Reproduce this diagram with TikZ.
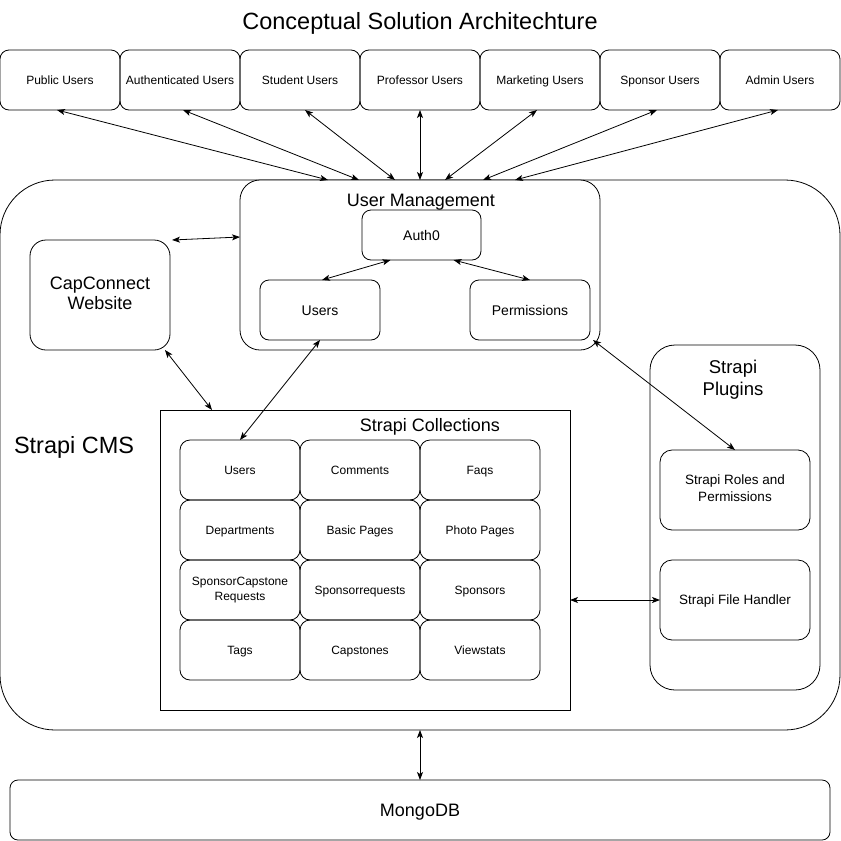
\documentclass[tikz,border=0pt]{standalone}
\usepackage{fontspec}
\setmainfont{Liberation Sans}
\usetikzlibrary{arrows.meta}
\newcommand\myfs[2]{\fontsize{#1}{#2}\selectfont}
\newcommand\mystrut{\rule[-0.22em]{0pt}{1.16em}}
\newcommand\myendstrut{\rule[-0.22em]{0pt}{0.22em}}
\begin{document}
\begin{tikzpicture}[x=1pt,y=-1pt,
  every node/.style={inner sep=0pt,outer sep=0pt},
  strutted/.style={execute at begin node=\mystrut,execute at end node=\myendstrut},
  ubox/.style={draw,line width=0.8pt,rounded corners=9pt,minimum width=120pt,minimum height=60pt,align=center,font=\myfs{12}{14},strutted},
  cbox/.style={draw,line width=0.8pt,rounded corners=10pt,minimum width=120pt,minimum height=60pt,align=center,font=\myfs{12}{14.5},strutted},
  mbox/.style={draw,line width=0.8pt,rounded corners=9pt,align=center,font=\myfs{14}{16},strutted},
  pbox/.style={draw,line width=0.8pt,rounded corners=12pt,minimum width=150pt,minimum height=80pt,align=center,font=\myfs{13.5}{17},strutted},
  big/.style={font=\myfs{18}{20},align=center,strutted},
  arr/.style={line width=0.8pt,{Stealth[length=8pt,width=6pt,inset=2pt]}-{Stealth[length=8pt,width=6pt,inset=2pt]}}
]
\useasboundingbox[fill=white] (0,0) rectangle (841,841);

% title
\node[font=\myfs{23.5}{26},strutted] (title) at (420,21) {Conceptual Solution Architechture};

% top user boxes
\node[ubox] (pub)  at (60,80)  {Public Users};
\node[ubox] (auth) at (180,80) {Authenticated Users};
\node[ubox] (stu)  at (300,80) {Student Users};
\node[ubox] (prof) at (420,80) {Professor Users};
\node[ubox] (mkt)  at (540,80) {Marketing Users};
\node[ubox] (spo)  at (660,80) {Sponsor Users};
\node[ubox] (adm)  at (780,80) {Admin Users};

% Strapi CMS container
\node[draw,line width=0.8pt,rounded corners=55pt,minimum width=840pt,minimum height=550pt] (cms) at (420,455) {};
\node[font=\myfs{23.5}{26},anchor=west,strutted] (cmslbl) at (14,445) {Strapi CMS};

% User management
\node[draw,line width=0.8pt,rounded corners=20pt,minimum width=360pt,minimum height=170pt,fill=white] (um) at (420,265) {};
\node[big] (umlbl) at (421,200) {User Management};
\node[mbox,minimum width=119pt,minimum height=50pt] (auth0) at (421.5,235) {Auth0};
\node[mbox,minimum width=120pt,minimum height=60pt] (umusers) at (320,310) {Users};
\node[mbox,minimum width=120pt,minimum height=60pt] (perm) at (530,310) {Permissions};

% CapConnect website
\node[draw,line width=0.8pt,rounded corners=16pt,minimum width=140pt,minimum height=110pt,big] (cap) at (100,295) {CapConnect\\Website};

% Strapi Collections
\node[draw,line width=0.8pt,minimum width=410pt,minimum height=300pt] (coll) at (365,560) {};
\node[big] (colllbl) at (430,425) {Strapi Collections};
\node[cbox] (cusers) at (240,470) {Users};
\node[cbox] (ccom)   at (360,470) {Comments};
\node[cbox] (cfaq)   at (480,470) {Faqs};
\node[cbox] (cdep)   at (240,530) {Departments};
\node[cbox] (cbasic) at (360,530) {Basic Pages};
\node[cbox] (cphoto) at (480,530) {Photo Pages};
\node[cbox] (cscr)   at (240,590) {SponsorCapstone\\Requests};
\node[cbox] (csreq)  at (360,590) {Sponsorrequests};
\node[cbox] (cspons) at (480,590) {Sponsors};
\node[cbox] (ctags)  at (240,650) {Tags};
\node[cbox] (ccap)   at (360,650) {Capstones};
\node[cbox] (cview)  at (480,650) {Viewstats};

% Strapi plugins
\node[draw,line width=0.8pt,rounded corners=25pt,minimum width=170pt,minimum height=345pt] (plug) at (735,517.5) {};
\node[font=\myfs{18.5}{22},align=center,strutted] (pluglbl) at (733,380) {Strapi\\Plugins};
\node[pbox] (roles) at (735,490) {Strapi Roles and\\Permissions};
\node[pbox] (fh)    at (735,600) {Strapi File Handler};

% MongoDB
\node[draw,line width=0.8pt,rounded corners=8pt,minimum width=820pt,minimum height=60pt,big] (mongo) at (420,810) {MongoDB};

% connectors: users to user management
\draw[arr] ([xshift=-3pt]pub.south)  -- ([xshift=-92pt]um.north);
\draw[arr] ([xshift=3pt]auth.south)  -- ([xshift=-61pt]um.north);
\draw[arr] ([xshift=5pt]stu.south)   -- ([xshift=-25pt]um.north);
\draw[arr] (prof.south)              -- (um.north);
\draw[arr] ([xshift=-3pt]mkt.south)  -- ([xshift=25pt]um.north);
\draw[arr] ([xshift=-3pt]spo.south)  -- ([xshift=63pt]um.north);
\draw[arr] ([xshift=-2pt]adm.south)  -- ([xshift=95pt]um.north);

% inner connectors
\draw[arr] ([xshift=2pt]cap.north east) -- ([yshift=28pt]um.west);
\draw[arr] ([xshift=-31pt]auth0.south) -- ([xshift=2pt]umusers.north);
\draw[arr] ([xshift=32pt]auth0.south) -- (perm.north);
\draw[arr] (umusers.south) -- (cusers.north);
\draw[arr] ([xshift=-5pt]cap.south east) -- ([xshift=52pt]coll.north west);
\draw[arr] ([xshift=-7pt,yshift=10pt]um.south east) -- (roles.north);
\draw[arr] ([yshift=-40pt]coll.east) -- (fh.west);
\draw[arr] (cms.south) -- (mongo.north);
\end{tikzpicture}
\end{document}
